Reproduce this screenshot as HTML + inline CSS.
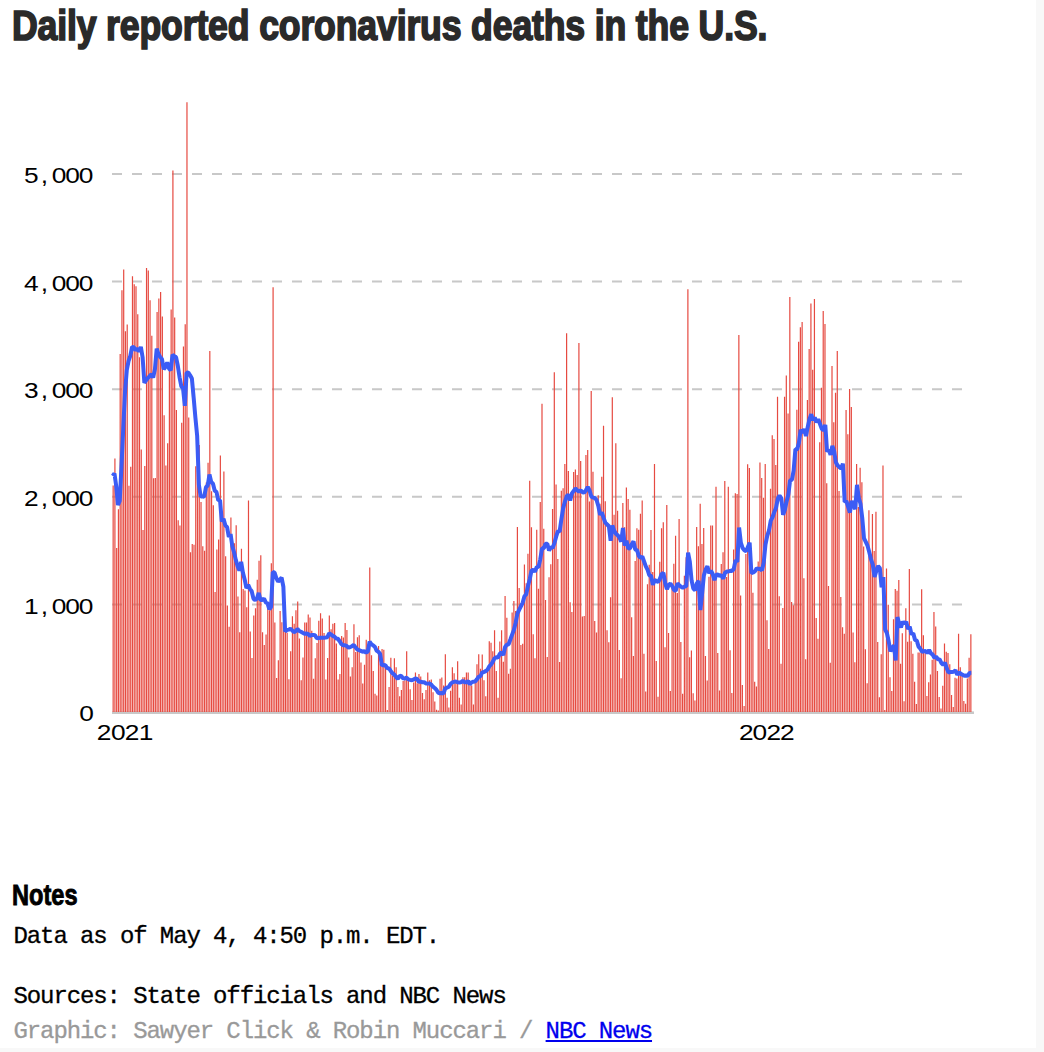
<!DOCTYPE html>
<html><head><meta charset="utf-8"><style>
html,body{margin:0;padding:0;}
body{width:1044px;height:1052px;background:#f8f8f8;overflow:hidden;position:relative;}
.page{position:absolute;left:0;top:0;width:1036px;height:1048px;background:#fff;}
.title{position:absolute;left:11.8px;top:1px;font-family:"Liberation Sans",sans-serif;font-weight:bold;font-size:42px;line-height:49px;color:#2a2a2a;white-space:nowrap;transform-origin:0 0;transform:scaleX(0.849);-webkit-text-stroke:1.7px #2a2a2a;letter-spacing:-0.2px;}
svg{position:absolute;left:0;top:0;}
.lab{font-family:"Liberation Sans",sans-serif;font-size:22.5px;}
.notes{position:absolute;left:11.8px;top:879px;font-family:"Liberation Sans",sans-serif;font-weight:bold;font-size:29.5px;line-height:32px;color:#000;transform-origin:0 0;transform:scaleX(0.8);-webkit-text-stroke:0.9px #000;}
.l{position:absolute;left:13.5px;font-family:"Liberation Mono",monospace;font-size:24px;letter-spacing:-1.1px;line-height:25px;color:#000;white-space:nowrap;-webkit-text-stroke:0.3px currentColor;}
.g{color:#999;}
a{color:#0000ee;text-decoration:underline;}
</style></head><body><div class="page">
<div class="title">Daily reported coronavirus deaths in the U.S.</div>
<svg width="1036" height="760" viewBox="0 0 1036 760">
<g stroke="#c8c8c8" stroke-width="2" stroke-dasharray="10 10"><line x1="112" x2="964" y1="604.40" y2="604.40"/><line x1="112" x2="964" y1="496.80" y2="496.80"/><line x1="112" x2="964" y1="389.20" y2="389.20"/><line x1="112" x2="964" y1="281.60" y2="281.60"/><line x1="112" x2="964" y1="174.00" y2="174.00"/></g>
<rect x="112" y="711.4" width="862" height="2.6" fill="#c8c8c8"/>
<path d="M112.55 485.48h1.2v226.52h-1.2zM114.31 458.44h1.2v253.56h-1.2zM116.07 548.11h1.2v163.89h-1.2zM117.82 509.30h1.2v202.70h-1.2zM119.58 353.94h1.2v358.06h-1.2zM121.34 290.13h1.2v421.87h-1.2zM123.10 269.61h1.2v442.39h-1.2zM124.85 331.19h1.2v380.81h-1.2zM126.61 324.41h1.2v387.59h-1.2zM128.37 485.86h1.2v226.14h-1.2zM130.13 466.86h1.2v245.14h-1.2zM131.88 276.19h1.2v435.81h-1.2zM133.64 284.24h1.2v427.76h-1.2zM135.40 286.16h1.2v425.84h-1.2zM137.16 314.20h1.2v397.80h-1.2zM138.91 357.20h1.2v354.80h-1.2zM140.67 449.48h1.2v262.52h-1.2zM142.43 530.04h1.2v181.96h-1.2zM144.19 466.09h1.2v245.91h-1.2zM145.94 267.92h1.2v444.08h-1.2zM147.70 270.51h1.2v441.49h-1.2zM149.46 300.17h1.2v411.83h-1.2zM151.22 335.86h1.2v376.14h-1.2zM152.97 478.27h1.2v233.73h-1.2zM154.73 477.93h1.2v234.07h-1.2zM156.49 312.04h1.2v399.96h-1.2zM158.25 298.38h1.2v413.62h-1.2zM160.01 292.11h1.2v419.89h-1.2zM161.76 316.38h1.2v395.62h-1.2zM163.52 415.18h1.2v296.82h-1.2zM165.28 465.38h1.2v246.62h-1.2zM167.04 443.29h1.2v268.71h-1.2zM168.79 366.48h1.2v345.52h-1.2zM170.55 309.39h1.2v402.61h-1.2zM172.31 170.60h1.2v541.40h-1.2zM174.07 317.49h1.2v394.51h-1.2zM175.82 409.96h1.2v302.04h-1.2zM177.58 520.13h1.2v191.87h-1.2zM179.34 525.44h1.2v186.56h-1.2zM181.10 422.71h1.2v289.29h-1.2zM182.85 346.51h1.2v365.49h-1.2zM184.61 324.34h1.2v387.66h-1.2zM186.37 102.13h1.2v609.87h-1.2zM188.13 417.44h1.2v294.56h-1.2zM189.88 552.35h1.2v159.65h-1.2zM191.64 544.00h1.2v168.00h-1.2zM193.40 544.78h1.2v167.22h-1.2zM195.16 466.15h1.2v245.85h-1.2zM196.91 434.73h1.2v277.27h-1.2zM198.67 444.94h1.2v267.06h-1.2zM200.43 502.09h1.2v209.91h-1.2zM202.19 546.26h1.2v165.74h-1.2zM203.95 550.77h1.2v161.23h-1.2zM205.70 482.58h1.2v229.42h-1.2zM207.46 462.72h1.2v249.28h-1.2zM209.22 351.08h1.2v360.92h-1.2zM210.98 491.26h1.2v220.74h-1.2zM212.73 505.25h1.2v206.75h-1.2zM214.49 591.93h1.2v120.07h-1.2zM216.25 549.41h1.2v162.59h-1.2zM218.01 539.48h1.2v172.52h-1.2zM219.76 455.48h1.2v256.52h-1.2zM221.52 514.27h1.2v197.73h-1.2zM223.28 471.46h1.2v240.54h-1.2zM225.04 556.20h1.2v155.80h-1.2zM226.79 605.61h1.2v106.39h-1.2zM228.55 626.84h1.2v85.16h-1.2zM230.31 517.45h1.2v194.55h-1.2zM232.07 543.26h1.2v168.74h-1.2zM233.82 543.27h1.2v168.73h-1.2zM235.58 525.32h1.2v186.68h-1.2zM237.34 596.56h1.2v115.44h-1.2zM239.10 632.35h1.2v79.65h-1.2zM240.85 548.73h1.2v163.27h-1.2zM242.61 588.96h1.2v123.04h-1.2zM244.37 590.42h1.2v121.58h-1.2zM246.13 607.14h1.2v104.86h-1.2zM247.89 500.38h1.2v211.62h-1.2zM249.64 631.51h1.2v80.49h-1.2zM251.40 658.12h1.2v53.88h-1.2zM253.16 615.46h1.2v96.54h-1.2zM254.92 608.37h1.2v103.63h-1.2zM256.67 579.72h1.2v132.28h-1.2zM258.43 560.74h1.2v151.26h-1.2zM260.19 555.33h1.2v156.67h-1.2zM261.95 632.15h1.2v79.85h-1.2zM263.70 645.09h1.2v66.91h-1.2zM265.46 634.48h1.2v77.52h-1.2zM267.22 608.72h1.2v103.28h-1.2zM268.98 610.18h1.2v101.82h-1.2zM270.73 563.26h1.2v148.74h-1.2zM272.49 287.35h1.2v424.65h-1.2zM274.25 622.46h1.2v89.54h-1.2zM276.01 677.93h1.2v34.07h-1.2zM277.76 660.36h1.2v51.64h-1.2zM279.52 610.90h1.2v101.10h-1.2zM281.28 622.24h1.2v89.76h-1.2zM283.04 629.82h1.2v82.18h-1.2zM284.79 631.31h1.2v80.69h-1.2zM286.55 632.84h1.2v79.16h-1.2zM288.31 679.28h1.2v32.72h-1.2zM290.07 651.17h1.2v60.83h-1.2zM291.83 616.18h1.2v95.82h-1.2zM293.58 623.84h1.2v88.16h-1.2zM295.34 610.22h1.2v101.78h-1.2zM297.10 601.43h1.2v110.57h-1.2zM298.86 638.38h1.2v73.62h-1.2zM300.61 680.16h1.2v31.84h-1.2zM302.37 657.39h1.2v54.61h-1.2zM304.13 622.38h1.2v89.62h-1.2zM305.89 622.38h1.2v89.62h-1.2zM307.64 614.43h1.2v97.57h-1.2zM309.40 617.54h1.2v94.46h-1.2zM311.16 630.76h1.2v81.24h-1.2zM312.92 678.67h1.2v33.33h-1.2zM314.67 658.15h1.2v53.85h-1.2zM316.43 642.89h1.2v69.11h-1.2zM318.19 620.86h1.2v91.14h-1.2zM319.95 613.23h1.2v98.77h-1.2zM321.70 618.49h1.2v93.51h-1.2zM323.46 632.99h1.2v79.01h-1.2zM325.22 679.39h1.2v32.61h-1.2zM326.98 658.12h1.2v53.88h-1.2zM328.73 615.48h1.2v96.52h-1.2zM330.49 629.24h1.2v82.76h-1.2zM332.25 623.87h1.2v88.13h-1.2zM334.01 623.12h1.2v88.88h-1.2zM335.77 643.50h1.2v68.50h-1.2zM337.52 679.42h1.2v32.58h-1.2zM339.28 674.04h1.2v37.96h-1.2zM341.04 635.99h1.2v76.01h-1.2zM342.80 637.50h1.2v74.50h-1.2zM344.55 623.11h1.2v88.89h-1.2zM346.31 629.99h1.2v82.01h-1.2zM348.07 657.38h1.2v54.62h-1.2zM349.83 676.39h1.2v35.61h-1.2zM351.58 667.27h1.2v44.73h-1.2zM353.34 624.21h1.2v87.79h-1.2zM355.10 652.03h1.2v59.97h-1.2zM356.86 637.28h1.2v74.72h-1.2zM358.61 635.23h1.2v76.77h-1.2zM360.37 662.61h1.2v49.39h-1.2zM362.13 683.44h1.2v28.56h-1.2zM363.89 664.86h1.2v47.14h-1.2zM365.64 639.81h1.2v72.19h-1.2zM367.40 650.87h1.2v61.13h-1.2zM369.16 567.55h1.2v144.45h-1.2zM370.92 655.20h1.2v56.80h-1.2zM372.67 670.99h1.2v41.01h-1.2zM374.43 693.77h1.2v18.23h-1.2zM376.19 695.38h1.2v16.62h-1.2zM377.95 645.88h1.2v66.12h-1.2zM379.71 663.41h1.2v48.59h-1.2zM381.46 649.02h1.2v62.98h-1.2zM383.22 649.80h1.2v62.20h-1.2zM384.98 664.97h1.2v47.03h-1.2zM386.74 710.09h1.2v1.91h-1.2zM388.49 687.10h1.2v24.90h-1.2zM390.25 657.77h1.2v54.23h-1.2zM392.01 675.70h1.2v36.30h-1.2zM393.77 658.17h1.2v53.83h-1.2zM395.52 667.28h1.2v44.72h-1.2zM397.28 687.02h1.2v24.98h-1.2zM399.04 696.15h1.2v15.85h-1.2zM400.80 690.02h1.2v21.98h-1.2zM402.55 680.88h1.2v31.12h-1.2zM404.31 680.13h1.2v31.87h-1.2zM406.07 651.25h1.2v60.75h-1.2zM407.83 678.64h1.2v33.36h-1.2zM409.58 689.28h1.2v22.72h-1.2zM411.34 699.91h1.2v12.09h-1.2zM413.10 682.40h1.2v29.60h-1.2zM414.86 672.52h1.2v39.48h-1.2zM416.61 683.16h1.2v28.84h-1.2zM418.37 674.02h1.2v37.98h-1.2zM420.13 676.40h1.2v35.60h-1.2zM421.89 693.05h1.2v18.95h-1.2zM423.65 699.18h1.2v12.82h-1.2zM425.40 690.05h1.2v21.95h-1.2zM427.16 672.55h1.2v39.45h-1.2zM428.92 680.17h1.2v31.83h-1.2zM430.68 679.42h1.2v32.58h-1.2zM432.43 692.30h1.2v19.70h-1.2zM434.19 701.44h1.2v10.56h-1.2zM435.95 709.82h1.2v2.18h-1.2zM437.71 710.62h1.2v1.38h-1.2zM439.46 678.66h1.2v33.34h-1.2zM441.22 677.47h1.2v34.53h-1.2zM442.98 685.52h1.2v26.48h-1.2zM444.74 654.27h1.2v57.73h-1.2zM446.49 697.66h1.2v14.34h-1.2zM448.25 707.54h1.2v4.46h-1.2zM450.01 690.78h1.2v21.22h-1.2zM451.77 667.27h1.2v44.73h-1.2zM453.52 673.29h1.2v38.71h-1.2zM455.28 682.78h1.2v29.22h-1.2zM457.04 661.16h1.2v50.84h-1.2zM458.80 697.68h1.2v14.32h-1.2zM460.55 704.46h1.2v7.54h-1.2zM462.31 677.18h1.2v34.82h-1.2zM464.07 677.16h1.2v34.84h-1.2zM465.83 672.53h1.2v39.47h-1.2zM467.59 672.53h1.2v39.47h-1.2zM469.34 685.29h1.2v26.71h-1.2zM471.10 685.50h1.2v26.50h-1.2zM472.86 704.40h1.2v7.60h-1.2zM474.62 681.63h1.2v30.37h-1.2zM476.37 664.13h1.2v47.87h-1.2zM478.13 654.25h1.2v57.75h-1.2zM479.89 668.76h1.2v43.24h-1.2zM481.65 654.58h1.2v57.42h-1.2zM483.40 680.15h1.2v31.85h-1.2zM485.16 696.15h1.2v15.85h-1.2zM486.92 671.77h1.2v40.23h-1.2zM488.68 641.37h1.2v70.63h-1.2zM490.43 642.87h1.2v69.13h-1.2zM492.19 651.26h1.2v60.74h-1.2zM493.95 630.32h1.2v81.68h-1.2zM495.71 671.04h1.2v40.96h-1.2zM497.46 697.67h1.2v14.33h-1.2zM499.22 641.38h1.2v70.62h-1.2zM500.98 630.30h1.2v81.70h-1.2zM502.74 661.86h1.2v50.14h-1.2zM504.49 595.99h1.2v116.01h-1.2zM506.25 617.67h1.2v94.33h-1.2zM508.01 673.63h1.2v38.37h-1.2zM509.77 668.69h1.2v43.31h-1.2zM511.53 612.40h1.2v99.60h-1.2zM513.28 601.03h1.2v110.97h-1.2zM515.04 610.94h1.2v101.06h-1.2zM516.80 526.96h1.2v185.04h-1.2zM518.56 588.07h1.2v123.93h-1.2zM520.31 645.01h1.2v66.99h-1.2zM522.07 643.83h1.2v68.17h-1.2zM523.83 564.56h1.2v147.44h-1.2zM525.59 583.32h1.2v128.68h-1.2zM527.34 553.73h1.2v158.27h-1.2zM529.10 480.78h1.2v231.22h-1.2zM530.86 527.20h1.2v184.80h-1.2zM532.62 634.18h1.2v77.82h-1.2zM534.37 658.13h1.2v53.87h-1.2zM536.13 529.87h1.2v182.13h-1.2zM537.89 588.72h1.2v123.28h-1.2zM539.65 502.03h1.2v209.97h-1.2zM541.40 403.64h1.2v308.36h-1.2zM543.16 528.68h1.2v183.32h-1.2zM544.92 600.12h1.2v111.88h-1.2zM546.68 656.95h1.2v55.05h-1.2zM548.43 577.35h1.2v134.65h-1.2zM550.19 564.34h1.2v147.66h-1.2zM551.95 508.92h1.2v203.08h-1.2zM553.71 372.17h1.2v339.83h-1.2zM555.47 484.52h1.2v227.48h-1.2zM557.22 559.09h1.2v152.91h-1.2zM558.98 662.10h1.2v49.90h-1.2zM560.74 490.66h1.2v221.34h-1.2zM562.50 488.29h1.2v223.71h-1.2zM564.25 464.12h1.2v247.88h-1.2zM566.01 333.19h1.2v378.81h-1.2zM567.77 471.01h1.2v240.99h-1.2zM569.53 602.27h1.2v109.73h-1.2zM571.28 611.94h1.2v100.06h-1.2zM573.04 472.08h1.2v239.92h-1.2zM574.80 469.50h1.2v242.50h-1.2zM576.56 475.09h1.2v236.91h-1.2zM578.31 343.07h1.2v368.93h-1.2zM580.07 461.11h1.2v250.89h-1.2zM581.83 616.53h1.2v95.47h-1.2zM583.59 615.88h1.2v96.12h-1.2zM585.34 454.96h1.2v257.04h-1.2zM587.10 449.99h1.2v262.01h-1.2zM588.86 501.54h1.2v210.46h-1.2zM590.62 390.91h1.2v321.09h-1.2zM592.37 471.70h1.2v240.30h-1.2zM594.13 621.03h1.2v90.97h-1.2zM595.89 632.43h1.2v79.57h-1.2zM597.65 495.17h1.2v216.83h-1.2zM599.41 503.86h1.2v208.14h-1.2zM601.16 476.63h1.2v235.37h-1.2zM602.92 425.69h1.2v286.31h-1.2zM604.68 501.32h1.2v210.68h-1.2zM606.44 630.23h1.2v81.77h-1.2zM608.19 642.16h1.2v69.84h-1.2zM609.95 597.23h1.2v114.77h-1.2zM611.71 397.24h1.2v314.76h-1.2zM613.47 514.71h1.2v197.29h-1.2zM615.22 443.19h1.2v268.81h-1.2zM616.98 510.63h1.2v201.37h-1.2zM618.74 650.05h1.2v61.95h-1.2zM620.50 678.18h1.2v33.82h-1.2zM622.25 503.10h1.2v208.90h-1.2zM624.01 527.35h1.2v184.65h-1.2zM625.77 487.40h1.2v224.60h-1.2zM627.53 499.00h1.2v213.00h-1.2zM629.28 509.64h1.2v202.36h-1.2zM631.04 617.29h1.2v94.71h-1.2zM632.80 656.06h1.2v55.94h-1.2zM634.56 560.88h1.2v151.12h-1.2zM636.31 528.23h1.2v183.77h-1.2zM638.07 529.72h1.2v182.28h-1.2zM639.83 513.72h1.2v198.28h-1.2zM641.59 500.51h1.2v211.49h-1.2zM643.35 653.80h1.2v58.20h-1.2zM645.10 691.52h1.2v20.48h-1.2zM646.86 584.32h1.2v127.68h-1.2zM648.62 564.67h1.2v147.33h-1.2zM650.38 529.99h1.2v182.01h-1.2zM652.13 571.92h1.2v140.08h-1.2zM653.89 464.03h1.2v247.97h-1.2zM655.65 660.93h1.2v51.07h-1.2zM657.41 696.82h1.2v15.18h-1.2zM659.16 561.68h1.2v150.32h-1.2zM660.92 528.27h1.2v183.73h-1.2zM662.68 522.13h1.2v189.87h-1.2zM664.44 647.13h1.2v64.87h-1.2zM666.19 505.01h1.2v206.99h-1.2zM667.95 632.93h1.2v79.07h-1.2zM669.71 691.02h1.2v20.98h-1.2zM671.47 587.46h1.2v124.54h-1.2zM673.22 563.83h1.2v148.17h-1.2zM674.98 535.70h1.2v176.30h-1.2zM676.74 592.91h1.2v119.09h-1.2zM678.50 519.02h1.2v192.98h-1.2zM680.25 641.89h1.2v70.11h-1.2zM682.01 693.79h1.2v18.21h-1.2zM683.77 575.82h1.2v136.18h-1.2zM685.53 557.20h1.2v154.80h-1.2zM687.29 289.20h1.2v422.80h-1.2zM689.04 657.17h1.2v54.83h-1.2zM690.80 650.51h1.2v61.49h-1.2zM692.56 693.18h1.2v18.82h-1.2zM694.32 700.47h1.2v11.53h-1.2zM696.07 526.98h1.2v185.02h-1.2zM697.83 546.37h1.2v165.63h-1.2zM699.59 503.81h1.2v208.19h-1.2zM701.35 544.10h1.2v167.90h-1.2zM703.10 527.89h1.2v184.11h-1.2zM704.86 656.05h1.2v55.95h-1.2zM706.62 680.43h1.2v31.57h-1.2zM708.38 576.77h1.2v135.23h-1.2zM710.13 525.45h1.2v186.55h-1.2zM711.89 525.45h1.2v186.55h-1.2zM713.65 575.05h1.2v136.95h-1.2zM715.41 486.80h1.2v225.20h-1.2zM717.16 652.97h1.2v59.03h-1.2zM718.92 690.47h1.2v21.53h-1.2zM720.68 563.94h1.2v148.06h-1.2zM722.44 552.22h1.2v159.78h-1.2zM724.19 481.12h1.2v230.88h-1.2zM725.95 576.92h1.2v135.08h-1.2zM727.71 486.80h1.2v225.20h-1.2zM729.47 650.15h1.2v61.85h-1.2zM731.23 693.12h1.2v18.88h-1.2zM732.98 549.49h1.2v162.51h-1.2zM734.74 493.21h1.2v218.79h-1.2zM736.50 493.96h1.2v218.04h-1.2zM738.26 334.99h1.2v377.01h-1.2zM740.01 595.55h1.2v116.45h-1.2zM741.77 685.06h1.2v26.94h-1.2zM743.53 706.11h1.2v5.89h-1.2zM745.29 554.00h1.2v158.00h-1.2zM747.04 464.28h1.2v247.72h-1.2zM748.80 468.02h1.2v243.98h-1.2zM750.56 555.23h1.2v156.77h-1.2zM752.32 592.84h1.2v119.16h-1.2zM754.07 681.69h1.2v30.31h-1.2zM755.83 686.42h1.2v25.58h-1.2zM757.59 561.60h1.2v150.40h-1.2zM759.35 462.46h1.2v249.54h-1.2zM761.10 477.93h1.2v234.07h-1.2zM762.86 497.72h1.2v214.28h-1.2zM764.62 464.00h1.2v248.00h-1.2zM766.38 620.19h1.2v91.81h-1.2zM768.13 648.88h1.2v63.12h-1.2zM769.89 488.63h1.2v223.37h-1.2zM771.65 435.13h1.2v276.87h-1.2zM773.41 438.88h1.2v273.12h-1.2zM775.17 465.10h1.2v246.90h-1.2zM776.92 396.80h1.2v315.20h-1.2zM778.68 596.19h1.2v115.81h-1.2zM780.44 663.87h1.2v48.13h-1.2zM782.20 607.99h1.2v104.01h-1.2zM783.95 396.84h1.2v315.16h-1.2zM785.71 375.58h1.2v336.42h-1.2zM787.47 413.57h1.2v298.43h-1.2zM789.23 296.97h1.2v415.03h-1.2zM790.98 601.89h1.2v110.11h-1.2zM792.74 605.20h1.2v106.80h-1.2zM794.50 463.90h1.2v248.10h-1.2zM796.26 409.81h1.2v302.19h-1.2zM798.01 341.79h1.2v370.21h-1.2zM799.77 327.33h1.2v384.67h-1.2zM801.53 322.04h1.2v389.96h-1.2zM803.29 578.26h1.2v133.74h-1.2zM805.04 659.34h1.2v52.66h-1.2zM806.80 399.97h1.2v312.03h-1.2zM808.56 349.05h1.2v362.95h-1.2zM810.32 303.38h1.2v408.62h-1.2zM812.07 369.86h1.2v342.14h-1.2zM813.83 298.88h1.2v413.12h-1.2zM815.59 618.05h1.2v93.95h-1.2zM817.35 638.69h1.2v73.31h-1.2zM819.11 442.31h1.2v269.69h-1.2zM820.86 387.80h1.2v324.20h-1.2zM822.62 311.05h1.2v400.95h-1.2zM824.38 323.96h1.2v388.04h-1.2zM826.14 483.27h1.2v228.73h-1.2zM827.89 585.95h1.2v126.05h-1.2zM829.65 662.76h1.2v49.24h-1.2zM831.41 365.98h1.2v346.02h-1.2zM833.17 422.22h1.2v289.78h-1.2zM834.92 392.77h1.2v319.23h-1.2zM836.68 351.09h1.2v360.91h-1.2zM838.44 490.95h1.2v221.05h-1.2zM840.20 596.99h1.2v115.01h-1.2zM841.95 627.19h1.2v84.81h-1.2zM843.71 633.83h1.2v78.17h-1.2zM845.47 410.00h1.2v302.00h-1.2zM847.23 434.33h1.2v277.67h-1.2zM848.98 389.10h1.2v322.90h-1.2zM850.74 406.94h1.2v305.06h-1.2zM852.50 632.49h1.2v79.51h-1.2zM854.26 662.14h1.2v49.86h-1.2zM856.01 463.99h1.2v248.01h-1.2zM857.77 506.95h1.2v205.05h-1.2zM859.53 467.71h1.2v244.29h-1.2zM861.29 482.31h1.2v229.69h-1.2zM863.05 546.43h1.2v165.57h-1.2zM864.80 649.27h1.2v62.73h-1.2zM866.56 683.19h1.2v28.81h-1.2zM868.32 510.23h1.2v201.77h-1.2zM870.08 560.61h1.2v151.39h-1.2zM871.83 513.98h1.2v198.02h-1.2zM873.59 551.05h1.2v160.95h-1.2zM875.35 511.85h1.2v200.15h-1.2zM877.11 641.92h1.2v70.08h-1.2zM878.86 697.35h1.2v14.65h-1.2zM880.62 654.27h1.2v57.73h-1.2zM882.38 465.54h1.2v246.46h-1.2zM884.14 710.03h1.2v1.97h-1.2zM885.89 568.55h1.2v143.45h-1.2zM887.65 604.65h1.2v107.35h-1.2zM889.41 677.16h1.2v34.84h-1.2zM891.17 691.12h1.2v20.88h-1.2zM892.92 619.26h1.2v92.74h-1.2zM894.68 589.07h1.2v122.93h-1.2zM896.44 590.65h1.2v121.35h-1.2zM898.20 579.92h1.2v132.08h-1.2zM899.95 663.80h1.2v48.20h-1.2zM901.71 633.18h1.2v78.82h-1.2zM903.47 701.26h1.2v10.74h-1.2zM905.23 608.13h1.2v103.87h-1.2zM906.99 641.84h1.2v70.16h-1.2zM908.74 568.92h1.2v143.08h-1.2zM910.50 641.19h1.2v70.81h-1.2zM912.26 653.78h1.2v58.22h-1.2zM914.02 681.72h1.2v30.28h-1.2zM915.77 703.96h1.2v8.04h-1.2zM917.53 652.51h1.2v59.49h-1.2zM919.29 652.52h1.2v59.48h-1.2zM921.05 589.25h1.2v122.75h-1.2zM922.80 635.23h1.2v76.77h-1.2zM924.56 651.13h1.2v60.87h-1.2zM926.32 696.02h1.2v15.98h-1.2zM928.08 682.17h1.2v29.83h-1.2zM929.83 674.43h1.2v37.57h-1.2zM931.59 659.83h1.2v52.17h-1.2zM933.35 611.92h1.2v100.08h-1.2zM935.11 626.52h1.2v85.48h-1.2zM936.86 671.09h1.2v40.91h-1.2zM938.62 697.09h1.2v14.91h-1.2zM940.38 708.38h1.2v3.62h-1.2zM942.14 685.83h1.2v26.17h-1.2zM943.89 643.62h1.2v68.38h-1.2zM945.65 651.87h1.2v60.13h-1.2zM947.41 652.98h1.2v59.02h-1.2zM949.17 664.15h1.2v47.85h-1.2zM950.93 695.07h1.2v16.93h-1.2zM952.68 707.10h1.2v4.90h-1.2zM954.44 677.77h1.2v34.23h-1.2zM956.20 678.41h1.2v33.59h-1.2zM957.96 633.85h1.2v78.15h-1.2zM959.71 667.14h1.2v44.86h-1.2zM961.47 673.16h1.2v38.84h-1.2zM963.23 701.10h1.2v10.90h-1.2zM964.99 703.79h1.2v8.21h-1.2zM966.74 678.44h1.2v33.56h-1.2zM968.50 657.82h1.2v54.18h-1.2zM970.26 634.29h1.2v77.71h-1.2z" fill="#e64a41"/>
<polyline points="112.70,476.00 114.46,473.50 116.22,486.00 117.98,505.00 119.74,501.00 121.50,466.00 123.26,428.00 125.02,392.00 126.78,370.23 128.54,361.22 130.30,355.93 132.05,346.98 133.81,347.30 135.57,350.35 137.33,348.38 139.09,351.56 140.85,346.86 142.61,357.22 144.37,382.91 146.13,380.18 147.89,378.03 149.65,376.08 151.41,374.26 153.17,377.67 154.93,369.20 156.69,348.72 158.45,354.09 160.21,357.04 161.97,359.01 163.73,369.27 165.49,367.04 167.24,362.33 169.00,368.56 170.76,370.35 172.52,354.81 174.28,356.18 176.04,357.08 177.80,365.76 179.56,377.32 181.32,386.26 183.08,388.68 184.84,405.81 186.60,372.83 188.36,372.57 190.12,375.25 191.88,378.52 193.64,397.45 195.40,417.59 197.16,435.92 198.92,485.05 200.68,496.52 202.43,496.41 204.19,496.79 205.95,487.28 207.71,485.55 209.47,474.53 211.23,482.04 212.99,483.74 214.75,490.63 216.51,492.07 218.27,500.31 220.03,500.21 221.79,521.48 223.55,518.87 225.31,525.26 227.07,527.14 228.83,536.93 230.59,534.07 232.35,546.43 234.11,552.47 235.87,560.13 237.62,566.15 239.38,570.51 241.14,561.83 242.90,572.58 244.66,579.38 246.42,588.21 248.18,584.95 249.94,588.82 251.70,591.23 253.46,598.64 255.22,600.17 256.98,598.29 258.74,592.98 260.50,600.04 262.26,600.01 264.02,598.50 265.78,602.39 267.54,603.34 269.30,609.26 271.06,606.97 272.81,571.98 274.57,572.64 276.33,578.11 278.09,581.54 279.85,579.63 281.61,577.73 283.37,586.75 285.13,631.54 286.89,629.96 288.65,629.64 290.41,628.69 292.17,630.43 293.93,632.20 295.69,631.31 297.45,628.93 299.21,630.96 300.97,631.74 302.73,632.71 304.49,633.67 306.25,633.48 308.00,633.92 309.76,635.95 311.52,634.96 313.28,634.89 315.04,635.20 316.80,638.19 318.56,637.93 320.32,637.66 322.08,637.65 323.84,637.74 325.60,637.57 327.36,637.32 329.12,633.24 330.88,634.36 332.64,635.82 334.40,636.52 336.16,638.45 337.92,638.76 339.68,641.21 341.44,644.08 343.19,645.21 344.95,645.15 346.71,646.10 348.47,647.66 350.23,647.09 351.99,646.16 353.75,644.86 355.51,647.33 357.27,649.41 359.03,650.23 360.79,650.90 362.55,651.74 364.31,651.14 366.07,652.63 367.83,651.63 369.59,641.68 371.35,644.18 373.11,645.35 374.87,646.72 376.62,650.79 378.38,651.73 380.14,654.03 381.90,665.38 383.66,665.11 385.42,665.26 387.18,668.33 388.94,668.26 390.70,670.91 392.46,673.19 394.22,674.61 395.98,676.73 397.74,678.91 399.50,676.20 401.26,675.82 403.02,678.35 404.78,678.55 406.54,677.62 408.30,679.35 410.06,679.87 411.81,680.38 413.57,679.39 415.33,678.41 417.09,678.93 418.85,681.89 420.61,681.64 422.37,682.23 424.13,682.25 425.89,683.44 427.65,683.63 429.41,683.47 431.17,684.44 432.93,686.69 434.69,688.02 436.45,689.70 438.21,692.60 439.97,693.43 441.73,692.95 443.49,693.66 445.25,688.29 447.00,687.57 448.76,686.96 450.52,683.99 452.28,682.37 454.04,681.84 455.80,681.40 457.56,682.37 459.32,682.49 461.08,682.35 462.84,680.75 464.60,682.29 466.36,682.31 468.12,681.07 469.88,684.32 471.64,682.28 473.40,681.67 475.16,681.56 476.92,679.29 478.68,676.67 480.44,676.26 482.19,672.39 483.95,672.04 485.71,671.11 487.47,669.71 489.23,666.45 490.99,664.60 492.75,661.89 494.51,658.39 496.27,657.26 498.03,657.64 499.79,653.75 501.55,652.39 503.31,655.12 505.07,646.96 506.83,644.69 508.59,644.25 510.35,639.47 512.11,634.62 513.87,630.05 515.63,622.90 517.38,613.65 519.14,609.85 520.90,606.25 522.66,602.82 524.42,596.25 526.18,594.37 527.94,586.12 529.70,579.22 531.46,570.94 533.22,569.60 534.98,571.74 536.74,566.91 538.50,567.07 540.26,559.37 542.02,548.30 543.78,548.41 545.54,543.70 547.30,543.72 549.06,550.55 550.82,547.04 552.58,547.93 554.33,543.36 556.09,536.96 557.85,531.18 559.61,531.61 561.37,519.33 563.13,508.36 564.89,501.80 566.65,496.27 568.41,494.59 570.17,500.42 571.93,493.34 573.69,490.88 575.45,488.50 577.21,490.29 578.97,491.76 580.73,490.31 582.49,492.26 584.25,492.64 586.01,490.07 587.76,487.00 589.52,490.21 591.28,496.48 593.04,497.63 594.80,497.99 596.56,500.05 598.32,505.97 600.08,514.77 601.84,512.29 603.60,517.89 605.36,522.71 607.12,524.48 608.88,526.27 610.64,540.67 612.40,525.37 614.16,530.76 615.92,533.64 617.68,535.20 619.44,537.53 621.20,541.59 622.96,528.03 624.71,545.50 626.47,540.61 628.23,548.22 629.99,548.50 631.75,544.30 633.51,541.39 635.27,549.55 637.03,550.06 638.79,555.85 640.55,557.90 642.31,556.47 644.07,561.46 645.83,566.40 647.59,569.89 649.35,575.32 651.11,575.96 652.87,584.81 654.63,579.94 656.39,581.19 658.15,581.95 659.90,578.76 661.66,573.90 663.42,572.91 665.18,583.16 666.94,589.13 668.70,585.02 670.46,583.52 672.22,586.06 673.98,590.02 675.74,590.88 677.50,583.25 679.26,585.32 681.02,586.82 682.78,587.81 684.54,586.54 686.30,586.37 688.06,552.57 689.82,561.60 691.58,580.34 693.34,588.64 695.09,590.28 696.85,583.36 698.61,580.85 700.37,610.14 702.13,593.29 703.89,575.39 705.65,569.52 707.41,566.28 709.17,573.17 710.93,570.72 712.69,573.98 714.45,580.21 716.21,574.75 717.97,574.42 719.73,576.03 721.49,575.01 723.25,578.81 725.01,572.72 726.77,571.54 728.53,571.49 730.28,570.75 732.04,571.08 733.80,568.71 735.56,560.25 737.32,561.85 739.08,527.48 740.84,542.51 742.60,548.05 744.36,550.29 746.12,551.27 747.88,546.99 749.64,542.72 751.40,573.10 753.16,572.43 754.92,571.36 756.68,568.22 758.44,569.07 760.20,568.84 761.96,570.38 763.72,562.61 765.47,544.50 767.23,535.81 768.99,530.48 770.75,520.58 772.51,517.26 774.27,512.12 776.03,507.77 777.79,498.55 779.55,495.64 781.31,498.06 783.07,514.87 784.83,509.77 786.59,501.43 788.35,494.51 790.11,480.19 791.87,480.00 793.63,470.61 795.39,449.27 797.15,449.39 798.91,442.65 800.66,429.68 802.42,432.68 804.18,428.99 805.94,436.01 807.70,427.09 809.46,419.07 811.22,414.22 812.98,420.21 814.74,417.47 816.50,422.34 818.26,419.14 820.02,423.99 821.78,428.95 823.54,430.25 825.30,424.84 827.06,451.60 828.82,449.59 830.58,454.79 832.34,445.98 834.10,451.05 835.85,462.21 837.61,465.50 839.37,467.08 841.13,468.52 842.89,463.71 844.65,501.87 846.41,501.12 848.17,506.93 849.93,512.56 851.69,500.92 853.45,505.14 855.21,509.12 856.97,484.84 858.73,497.60 860.49,503.79 862.25,517.98 864.01,538.35 865.77,541.92 867.53,545.71 869.29,552.28 871.04,559.31 872.80,564.60 874.56,577.00 876.32,571.00 878.08,566.00 879.84,568.00 881.60,587.40 883.36,577.10 885.12,629.60 886.88,633.00 888.64,641.00 890.40,651.30 892.16,648.00 893.92,645.50 895.68,660.40 897.44,617.00 899.20,624.00 900.96,627.30 902.72,621.60 904.48,623.90 906.23,621.60 907.99,629.17 909.75,626.56 911.51,634.54 913.27,633.16 915.03,639.87 916.79,640.59 918.55,646.66 920.31,648.68 922.07,651.72 923.83,651.25 925.59,651.00 927.35,653.03 929.11,650.00 930.87,653.28 932.63,654.49 934.39,657.79 936.15,656.55 937.91,659.30 939.67,659.47 941.42,663.03 943.18,664.81 944.94,662.67 946.70,668.31 948.46,672.53 950.22,672.02 951.98,671.88 953.74,671.76 955.50,670.31 957.26,674.85 959.02,672.35 960.78,673.88 962.54,674.83 964.30,675.79 966.06,675.53 967.82,675.69 969.58,672.89 971.34,672.83" fill="none" stroke="#3b5cf5" stroke-width="4" stroke-linejoin="bevel"/>
<g class="lab" text-anchor="middle" fill="#000"><text x="73.93" y="721.20" transform="scale(1.17 1)">0</text><text x="26.84 38.03 50.56 62.09 73.63" y="613.60" transform="scale(1.17 1)">1,000</text><text x="26.84 38.03 50.56 62.09 73.63" y="506.00" transform="scale(1.17 1)">2,000</text><text x="26.84 38.03 50.56 62.09 73.63" y="398.40" transform="scale(1.17 1)">3,000</text><text x="26.84 38.03 50.56 62.09 73.63" y="290.80" transform="scale(1.17 1)">4,000</text><text x="26.84 38.03 50.56 62.09 73.63" y="183.20" transform="scale(1.17 1)">5,000</text><text x="89.06 101.03 112.99 124.79" y="739.60" transform="scale(1.17 1)">2021</text><text x="637.78 649.49 661.45 672.99" y="739.60" transform="scale(1.17 1)">2022</text></g>
</svg>
<div class="notes">Notes</div>
<div class="l" style="top:924px">Data as of May 4, 4:50 p.m. EDT.</div>
<div class="l" style="top:984px">Sources: State officials and NBC News</div>
<div class="l g" style="top:1019px">Graphic: Sawyer Click &amp; Robin Muccari / <a href="#">NBC News</a></div>
</div></body></html>
